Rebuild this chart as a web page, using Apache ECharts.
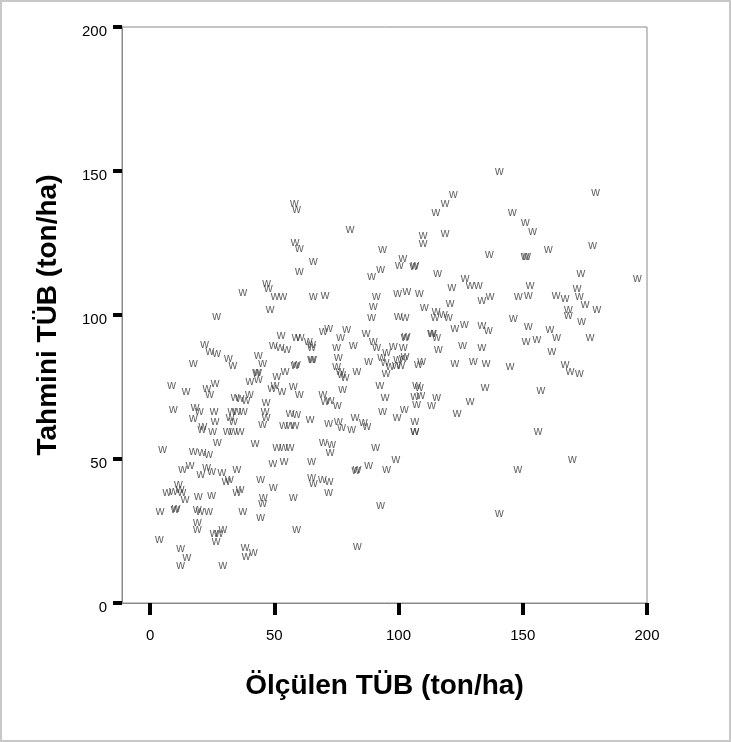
<!DOCTYPE html>
<html><head><meta charset="utf-8">
<script src="https://cdn.jsdelivr.net/npm/echarts@6/dist/echarts.min.js"></script>
<style>html,body{margin:0;padding:0;background:#fff}#c{width:731px;height:742px}</style>
</head><body><div id="c"></div>
<script>
const xTicks = [0, 50, 100, 150, 200];
const yTicks = [0, 50, 100, 150, 200];
const xTitle = 'Ölçülen TÜB (ton/ha)';
const yTitle = 'Tahmini TÜB (ton/ha)';
const measured = [
58.1,59.0,58.4,60.1,65.7,60.1,46.9,47.6,37.3,50.3,53.4,65.7,
122.1,118.7,115.0,80.5,109.9,109.9,118.7,93.6,101.7,100.3,106.2,106.6,92.8,89.2,115.7,126.8,128.8,132.1,121.4,70.4,91.1,99.6,103.3,108.4,
140.6,179.3,145.8,151.0,153.9,136.5,150.9,151.5,160.3,178.1,173.4,196.1,152.9,171.9,136.8,148.2,152.2,163.4,167.0,172.8,
133.5,175.1,168.3,168.3,179.8,173.7,146.2,152.2,160.9,163.6,151.3,155.7,177.1,133.5,136.1,161.7,135.2,144.9,167.0,169.0,172.8,134.8,157.3,156.2,
169.9,148.0,140.6,
106.6,69.7,73.1,72.4,90.8,98.9,87.9,95.2,82.8,83.3,65.0,65.0,65.7,69.3,72.0,71.8,92.8,83.4,
20.8,25.2,31.1,33.5,36.2,27.1,5.0,17.4,20.8,23.5,42.3,51.0,53.7,56.3,49.4,53.9,13.1,16.1,20.4,22.7,24.8,28.9,34.9,30.6,31.9,44.5,49.6,57.7,34.9,36.2,45.6,45.3,6.7,9.4,11.4,12.1,12.8,14.1,19.4,24.8,4.0,10.1,10.5,19.0,20.1,23.5,37.3,44.5,59.0,19.0,19.0,25.8,26.6,27.8,29.3,3.7,12.3,14.8,12.3,38.2,41.6,38.6,29.3,
48.3,26.8,52.7,58.8,60.4,63.7,65.0,65.0,49.6,52.3,55.0,21.9,24.1,26.8,17.4,31.5,33.3,43.6,45.3,58.4,58.9,65.0,65.4,42.9,43.3,43.6,40.2,51.0,54.3,8.7,14.5,22.8,23.9,26.2,34.2,36.2,38.6,39.9,49.0,50.3,53.0,57.7,60.1,46.7,9.4,18.1,19.8,25.8,32.9,34.9,37.5,32.2,33.5,46.3,46.7,45.3,56.3,59.0,64.4,17.4,21.2,26.2,53.7,56.3,58.4,
89.9,89.2,110.4,120.7,115.1,118.0,120.0,114.7,99.9,102.6,122.7,126.5,69.7,71.8,79.1,76.7,86.9,89.9,91.2,81.8,75.1,102.6,103.0,101.9,102.6,97.9,113.3,113.6,115.3,116.0,125.8,133.5,75.8,87.9,93.2,95.2,94.6,96.6,99.6,101.9,99.1,100.9,95.0,108.0,109.3,122.7,130.1,75.1,76.5,77.1,78.5,83.2,77.5,92.5,107.3,108.4,69.5,70.4,72.4,75.4,94.6,106.6,109.0,107.3,115.3,113.3,128.8,123.6,93.6,102.3,99.4,106.6,106.6,71.8,75.8,77.1,81.1,82.5,85.8,87.2
];
const predicted = [
138.8,136.5,125.0,122.9,118.6,115.1,110.8,109.3,107.6,106.4,106.4,106.4,
141.7,138.8,135.4,129.6,127.5,124.7,128.2,122.6,119.4,117.1,116.8,117.0,115.9,113.2,114.2,112.5,110.1,110.1,109.5,106.7,106.4,107.4,108.0,107.4,
149.6,142.3,135.4,131.9,129.0,121.1,120.3,120.3,122.6,124.0,114.2,112.6,110.1,109.0,106.4,106.2,106.7,106.7,105.5,106.2,
104.9,103.5,101.8,99.8,101.8,97.7,98.7,96.0,94.9,92.0,90.8,91.4,92.0,96.3,94.5,87.1,83.0,82.1,82.7,80.2,79.5,74.8,73.8,59.6,
49.7,46.3,30.9,
59.6,55.7,54.9,52.1,54.1,49.7,47.6,46.3,46.0,46.2,48.9,43.4,41.6,42.8,42.2,38.2,33.8,19.4,
60.2,59.4,59.6,59.6,59.6,55.7,53.2,52.6,52.1,51.5,55.3,53.8,53.8,53.8,48.4,48.9,46.3,47.7,44.5,46.9,45.7,45.3,46.3,42.2,42.8,42.8,39.9,36.4,38.2,39.3,36.4,34.5,38.4,38.7,41.1,39.3,38.2,35.9,37.0,37.2,31.8,32.4,32.9,32.4,31.8,31.8,31.8,29.5,25.4,27.8,25.4,24.0,21.4,24.0,25.4,22.0,18.7,15.8,13.0,19.1,17.6,16.0,12.9,
101.8,99.5,92.8,92.0,92.0,90.8,89.7,88.5,89.3,88.7,87.9,89.7,87.3,86.4,83.0,85.0,82.5,85.8,83.0,82.5,82.8,84.4,84.6,79.8,80.0,77.5,76.7,78.7,80.2,75.5,73.2,74.3,72.3,76.0,71.2,70.9,70.2,72.5,74.3,75.5,73.4,75.2,72.5,69.4,67.1,67.7,66.3,66.3,66.3,66.5,66.5,64.2,63.0,66.5,64.2,61.9,65.9,65.4,63.6,64.0,61.3,63.0,61.5,61.5,61.5,
102.9,98.9,102.4,103.8,101.2,100.1,98.9,98.9,99.5,98.9,95.4,96.8,94.3,95.4,94.9,92.2,93.4,90.8,88.5,89.3,88.7,92.0,92.3,88.5,85.6,89.1,93.4,93.6,92.2,87.9,89.3,88.7,85.2,83.9,85.2,86.8,83.3,82.1,84.4,85.0,82.5,82.5,79.5,82.7,83.9,83.0,83.9,82.1,80.4,79.2,78.1,80.2,74.0,75.5,75.5,74.6,72.3,69.8,70.2,68.6,71.2,71.7,72.1,68.8,71.4,68.6,69.8,65.7,66.3,67.1,64.2,62.8,59.6,62.1,62.8,60.7,60.1,64.4,62.5,61.3
];
const FONT = '"Liberation Sans", Arial, sans-serif';
const chart = echarts.init(document.getElementById('c'), null, {renderer: 'canvas'});
const data = measured.map((x, i) => [x, predicted[i]]);
chart.setOption({
  animation: false,
  backgroundColor: '#fff',
  graphic: [{type: 'rect', silent: true, shape: {x: 1, y: 1, width: 729, height: 740},
    style: {fill: 'none', stroke: '#c8c8c8', lineWidth: 2}}],
  grid: {left: 122, top: 27, width: 525, height: 576, show: true, borderColor: '#888', borderWidth: 1},
  xAxis: {
    type: 'value', min: -11.3, max: 200, splitLine: {show: false},
    axisLine: {show: true, onZero: false, lineStyle: {color: '#888', width: 1}},
    axisTick: {show: true, customValues: xTicks, length: 12, lineStyle: {color: '#000', width: 4}},
    axisLabel: {customValues: xTicks, fontSize: 15, color: '#000', margin: 25, fontFamily: FONT},
    name: xTitle, nameLocation: 'middle', nameGap: 69,
    nameTextStyle: {fontSize: 28, fontWeight: 'bold', color: '#000', fontFamily: FONT}
  },
  yAxis: {
    type: 'value', min: 0, max: 200, splitLine: {show: false},
    axisLine: {show: true, onZero: false, lineStyle: {color: '#888', width: 1}},
    axisTick: {show: true, customValues: yTicks, length: 9, lineStyle: {color: '#000', width: 4}},
    axisLabel: {customValues: yTicks, fontSize: 15, color: '#000', margin: 15, verticalAlign: 'top', lineHeight: 10, fontFamily: FONT},
    name: yTitle, nameLocation: 'middle', nameGap: 60,
    nameTextStyle: {fontSize: 28, fontWeight: 'bold', color: '#000', fontFamily: FONT}
  },
  series: [{
    type: 'scatter', data: data, symbolSize: 1,
    itemStyle: {color: 'rgba(0,0,0,0)'},
    label: {show: true, position: 'inside', formatter: 'w', fontSize: 12, color: '#3a3a3a', fontFamily: FONT}
  }]
});
</script>
</body></html>
